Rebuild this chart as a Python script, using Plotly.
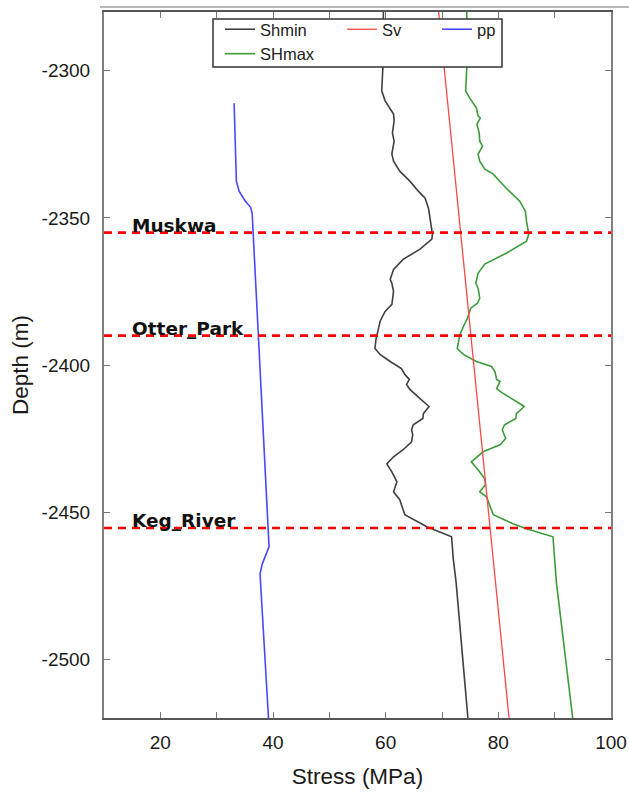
import plotly.graph_objects as go

# ---- data ----
shmin_depth = [-2280, -2299, -2306.8, -2310.2, -2314.7, -2317.0, -2321.1, -2323.9, -2328.3, -2330.7,
               -2334.1, -2337.5, -2340.9, -2343.3, -2346.7, -2351.1, -2355.5, -2357.2, -2360.6, -2364.1,
               -2367.5, -2370.9, -2372.2, -2375.0, -2379.4, -2381.8, -2385.2, -2387.9, -2391.0, -2394.4,
               -2396.4, -2398.8, -2401.2, -2403.2, -2404.9, -2406.6, -2408.3, -2411.4, -2414.1, -2416.5,
               -2418.2, -2420.3, -2422.0, -2423.7, -2426.1, -2428.8, -2431.2, -2433.6, -2436.3, -2439.7,
               -2443.1, -2445.8, -2450.9, -2455.0, -2458.4, -2465.9, -2473.8, -2520]
shmin_stress = [59.6, 59.5, 59.3, 59.9, 61.4, 61.5, 61.2, 61.5, 61.1, 61.4,
                62.5, 64.3, 65.8, 67.0, 67.6, 67.9, 68.3, 68.2, 66.1, 63.1,
                61.4, 60.8, 61.1, 61.4, 61.1, 59.9, 59.0, 58.7, 58.3, 58.1,
                59.0, 60.8, 62.8, 63.4, 64.2, 63.7, 64.3, 66.1, 67.7, 66.7,
                66.6, 64.9, 64.6, 64.8, 64.6, 63.1, 61.4, 60.2, 61.1, 62.0,
                61.4, 62.5, 63.4, 67.3, 71.7, 72.0, 72.5, 74.6]

shmax_depth = [-2280, -2299, -2306.8, -2309.2, -2312.6, -2315.3, -2316.0, -2318.1, -2321.1, -2323.9,
               -2325.6, -2328.3, -2330.7, -2333.4, -2335.1, -2339.9, -2344.3, -2347.7, -2351.1, -2355.5,
               -2357.9, -2362.0, -2365.7, -2368.8, -2372.2, -2373.9, -2377.3, -2379.0, -2380.7, -2384.2,
               -2386.9, -2389.6, -2394.4, -2396.4, -2398.8, -2400.5, -2402.2, -2404.9, -2405.6, -2408.0,
               -2409.0, -2411.8, -2414.1, -2416.5, -2418.2, -2420.3, -2422.0, -2425.0, -2427.1, -2429.5,
               -2432.9, -2435.6, -2438.7, -2440.7, -2443.1, -2444.8, -2450.9, -2454.0, -2455.7, -2458.4,
               -2465.9, -2473.8, -2520]
shmax_stress = [74.4, 74.4, 74.2, 74.9, 76.1, 76.4, 76.8, 76.2, 76.6, 76.7,
                77.2, 76.4, 76.7, 77.6, 79.1, 81.4, 83.8, 84.8, 85.0, 85.4,
                85.0, 81.4, 77.6, 76.4, 76.0, 76.4, 76.7, 76.3, 75.1, 74.5,
                73.8, 73.2, 72.7, 73.8, 76.1, 78.8, 79.4, 79.7, 80.3, 79.7,
                80.3, 82.6, 84.6, 83.2, 83.1, 81.1, 80.7, 81.3, 80.3, 77.3,
                75.2, 76.4, 77.6, 77.7, 76.7, 77.9, 79.1, 82.6, 85.0, 89.7,
                90.0, 90.3, 93.2]

sv_depth = [-2280, -2520]
sv_stress = [69.4, 81.9]

pp_depth = [-2311, -2337.5, -2341, -2344.3, -2346.3, -2348.4, -2461.8, -2467.6, -2471, -2520]
pp_stress = [33.1, 33.5, 34.0, 35.1, 36.0, 36.3, 39.3, 38.1, 37.7, 39.2]

formation_names = ["Muskwa", "Otter_Park", "Keg_River"]
formation_depths = [-2355, -2390, -2455.4]

y_tick_vals = [-2500, -2450, -2400, -2350, -2300]
y_tick_text = ["-2500", "-2450", "-2400", "-2350", "-2300"]

# ---- figure ----
fig = go.Figure()

fig.add_trace(go.Scatter(x=shmin_stress, y=shmin_depth, mode="lines", name="Shmin",
                         line=dict(color="#404040", width=1.6), legend="legend"))
fig.add_trace(go.Scatter(x=shmax_stress, y=shmax_depth, mode="lines", name="SHmax",
                         line=dict(color="#3c9c3c", width=1.6), legend="legend"))
fig.add_trace(go.Scatter(x=sv_stress, y=sv_depth, mode="lines", name="Sv",
                         line=dict(color="#ff4848", width=1.3), legend="legend2"))
fig.add_trace(go.Scatter(x=pp_stress, y=pp_depth, mode="lines", name="pp",
                         line=dict(color="#4848ff", width=1.6), legend="legend3"))

for name, d in zip(formation_names, formation_depths):
    fig.add_hline(y=d, line=dict(color="#ff0000", width=2.6, dash="8px,6px"), layer="above")
    fig.add_annotation(x=14.7, y=d, text="<b>" + name + "</b>", showarrow=False,
                       xanchor="left", yanchor="bottom", yshift=-5,
                       font=dict(family="DejaVu Sans", size=18.5, color="#111111"))

# legend frame
fig.add_shape(type="rect", xref="paper", yref="paper",
              x0=(213 - 104) / 507, x1=(502 - 104) / 507,
              y0=1 - (67 - 12) / 706, y1=1 - (19 - 12) / 706,
              line=dict(color="#333333", width=1.5), fillcolor="white", layer="above")
# thin grey line above the frame (as in the reference image)
fig.add_shape(type="line", xref="paper", yref="paper",
              x0=-0.008, x1=1.05, y0=1 + 5 / 706, y1=1 + 5 / 706,
              line=dict(color="#a0a0a0", width=1.5))

legend_common = dict(yanchor="top", xanchor="left", bgcolor="rgba(0,0,0,0)", borderwidth=0,
                     font=dict(family="Liberation Sans", size=16.5, color="#222222"),
                     tracegroupgap=0, orientation="v")
legend_top = 1 - (12 - 12) / 706

fig.update_layout(
    width=629, height=792,
    margin=dict(l=104, r=18, t=12, b=74, autoexpand=False),
    paper_bgcolor="white", plot_bgcolor="white",
    font=dict(family="Liberation Sans", color="#1a1a1a"),
    showlegend=True,
    legend=dict(x=(220 - 104) / 507, y=legend_top, **legend_common),
    legend2=dict(x=(342 - 104) / 507, y=legend_top, **legend_common),
    legend3=dict(x=(437 - 104) / 507, y=legend_top, **legend_common),
    xaxis=dict(range=[10, 100], tick0=0, dtick=20, ticks="inside", ticklen=6, tickwidth=1.2,
               tickcolor="#777777", showgrid=False, zeroline=False, automargin=False,
               showline=True, linecolor="#555555", linewidth=2, mirror="ticks",
               minor=dict(dtick=10, tick0=0, ticks="inside", ticklen=6, tickcolor="#777777", showgrid=False),
               tickfont=dict(family="Liberation Sans", size=19, color="#1a1a1a"),
               ticklabelstandoff=6,
               title=dict(text="Stress (MPa)", font=dict(family="Liberation Sans", size=22.5, color="#1a1a1a"),
                          standoff=16)),
    yaxis=dict(range=[-2520, -2280], tickmode="array", tickvals=y_tick_vals, ticktext=y_tick_text,
               ticks="inside", ticklen=6, tickwidth=1.2, tickcolor="#777777",
               showgrid=False, zeroline=False, automargin=False,
               showline=True, linecolor="#808080", linewidth=2, mirror="ticks",
               tickfont=dict(family="Liberation Sans", size=19, color="#1a1a1a"),
               ticklabelstandoff=8,
               title=dict(text="Depth (m)", font=dict(family="Liberation Sans", size=22.5, color="#1a1a1a"),
                          standoff=7)),
)

fig.write_html("out.html")
